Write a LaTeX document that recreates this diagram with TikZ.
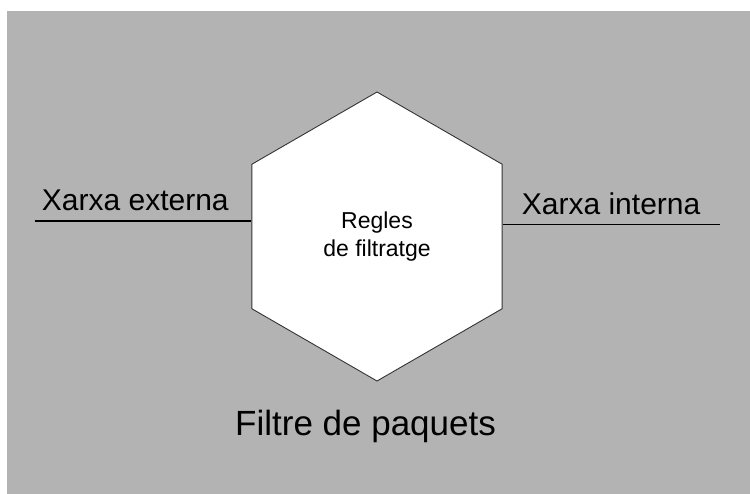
\documentclass[tikz,border=0pt]{standalone}
\usepackage{fontspec}
\setmainfont{Liberation Sans}
\usetikzlibrary{shapes.geometric}
\definecolor{bggray}{RGB}{179,179,179}
\tikzset{
  hexshape/.style={regular polygon, regular polygon sides=6, shape border rotate=30,
    minimum size=289pt, inner sep=0pt, draw=black!80, line width=0.9pt, fill=white},
  netline/.style={draw=black, line width=1.6pt},
  biglabel/.style={inner sep=0pt, font=\fontsize{30}{36}\selectfont},
}
\begin{document}
\begin{tikzpicture}[x=1pt,y=-1pt]
\useasboundingbox (0,0) rectangle (750,494);
\fill[bggray] (7,11) rectangle (750,494);
\node[hexshape] (hex) at (377,236.5) {};
\coordinate (L) at (34.5,221);
\coordinate (R) at (719.5,224.5);
\draw[netline] (L) -- (L -| hex.west);
\draw[netline] (R -| hex.east) -- (R);
\node[biglabel, anchor=base west] (ext) at (41.7,211) {Xarxa externa};
\node[biglabel, anchor=base west] (int) at (521.7,215) {Xarxa interna};
\node[inner sep=0pt, anchor=base west, font=\fontsize{35}{42}\selectfont] (title) at (235,435.7) {Filtre de paquets};
\node[inner sep=0pt, align=center, anchor=base, font=\fontsize{23}{27.7}\selectfont] (rules) at (377,256.7) {Regles\\de filtratge};
\end{tikzpicture}
\end{document}
